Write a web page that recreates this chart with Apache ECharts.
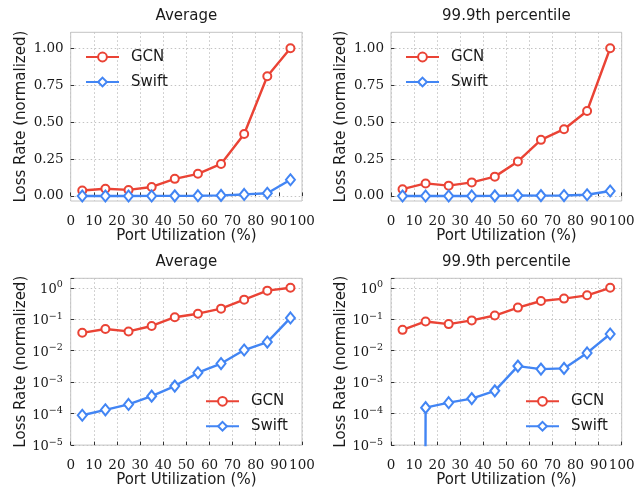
<!DOCTYPE html>
<html><head><meta charset="utf-8">
<script src="https://cdn.jsdelivr.net/npm/echarts@6/dist/echarts.min.js"></script>
<style>html,body{margin:0;padding:0;background:#fff}#c{width:643px;height:489px}</style>
</head><body><div id="c"></div>
<script>
// ---- data ----
const utilization = [5, 15, 25, 35, 45, 55, 65, 75, 85, 95];
const gcnAverage   = [0.037, 0.049, 0.041, 0.061, 0.116, 0.150, 0.217, 0.42, 0.81, 1.0];
const swiftAverage = [8.9e-5, 1.32e-4, 1.96e-4, 3.6e-4, 7.5e-4, 2.0e-3, 3.9e-3, 1.05e-2, 1.88e-2, 0.11];
const gcnP999      = [0.046, 0.085, 0.070, 0.092, 0.131, 0.234, 0.380, 0.452, 0.575, 1.0];
const swiftP999    = [0, 1.55e-4, 2.23e-4, 3.0e-4, 5.3e-4, 3.24e-3, 2.6e-3, 2.74e-3, 8.5e-3, 0.034];
const xTickValues = [0, 10, 20, 30, 40, 50, 60, 70, 80, 90, 100];
const linearTickValues = [0, 0.25, 0.5, 0.75, 1.0];
const logTickValues = [1e-5, 1e-4, 1e-3, 1e-2, 1e-1, 1];
const panelTitles = ['Average', '99.9th percentile', 'Average', '99.9th percentile'];
const seriesNames = ['GCN', 'Swift'];
const xAxisName = 'Port Utilization (%)';
const yAxisName = 'Loss Rate (normalized)';

// ---- styles ----
const RED = '#ea4335', BLUE = '#4285f4';
const TXT = '#1a1a1a';
const SANS = 'DejaVu Sans', SERIF = 'DejaVu Serif';
const grids = [
  {left: 70.7, top: 32.3, width: 231.3, height: 168.7},
  {left: 391,  top: 32.3, width: 230.7, height: 168.7},
  {left: 70.7, top: 278.3, width: 231.3, height: 167.7},
  {left: 391,  top: 278.3, width: 230.7, height: 167.7}
];
const isLog = [false, false, true, true];
const SPLIT = {show: true, lineStyle: {color: '#c4c4c4', width: 1, type: [1.5, 2.5]}};
const TICK = {show: true, inside: true, length: 3.5, lineStyle: {color: '#333', width: 1}};

function near(v, arr, logMode) {
  return arr.some(t => logMode ? Math.abs(Math.log10(v) - Math.log10(t)) < 1e-6 : Math.abs(v - t) < 1e-9);
}

const xAxes = grids.map((g, i) => ({
  type: 'value', gridIndex: i, min: 0, max: 100, interval: 10,
  name: xAxisName, nameLocation: 'middle', nameGap: 27,
  nameTextStyle: {fontFamily: SANS, fontSize: 15, color: TXT},
  axisLine: {show: false},
  axisTick: TICK,
  axisLabel: {fontFamily: SERIF, fontSize: 13.5, color: TXT, margin: 13,
    formatter: v => near(v, xTickValues, false) ? String(v) : ''},
  splitLine: SPLIT
}));

const yAxes = grids.map((g, i) => {
  const common = {
    gridIndex: i,
    name: yAxisName, nameLocation: 'middle', nameGap: 42, nameRotate: 90,
    nameTextStyle: {fontFamily: SANS, fontSize: 15, color: TXT},
    axisLine: {show: false},
    splitLine: SPLIT
  };
  if (!isLog[i]) {
    return Object.assign(common, {
      type: 'value', min: -0.034, max: 1.108,
      axisTick: Object.assign({customValues: linearTickValues}, TICK),
      axisLabel: {fontFamily: SERIF, fontSize: 13.5, color: TXT, margin: 7,
        customValues: linearTickValues,
        formatter: v => v.toFixed(2)}
    });
  }
  return Object.assign(common, {
    type: 'log', logBase: 10, min: 1e-5, max: 2, interval: 1,
    axisTick: TICK,
    axisLabel: {margin: 8,
      formatter: v => {
        if (!near(v, logTickValues, true)) return '';
        const e = Math.round(Math.log10(v));
        return '{b|10}{s|' + (e < 0 ? '\u2212' + (-e) : String(e)) + '}';
      },
      rich: {
        b: {fontFamily: SERIF, fontSize: 13, color: TXT, lineHeight: 16, verticalAlign: 'bottom'},
        s: {fontFamily: SERIF, fontSize: 9.5, color: TXT, lineHeight: 8, verticalAlign: 'top'}
      }
    }
  });
});

function mkSeries(name, idx, values, color, symbol, symbolSize, logMode) {
  return {
    type: 'line', name: name, xAxisIndex: idx, yAxisIndex: idx,
    // non-positive values on a log axis are clipped far below the axis (matplotlib-like)
    data: utilization.map((x, k) => [x, (logMode && values[k] <= 0) ? 1e-300 : values[k]]),
    symbol: symbol, symbolSize: symbolSize, showAllSymbol: true,
    color: color,
    lineStyle: {color: color, width: 2.4},
    itemStyle: {color: '#fff', borderColor: color, borderWidth: 2},
    clip: true, animation: false, z: 3
  };
}

const panelData = [
  [gcnAverage, swiftAverage],
  [gcnP999, swiftP999],
  [gcnAverage, swiftAverage],
  [gcnP999, swiftP999]
];
const series = [];
panelData.forEach((pair, i) => {
  series.push(mkSeries(seriesNames[0], i, pair[0], RED, 'circle', 8, isLog[i]));
  series.push(mkSeries(seriesNames[1], i, pair[1], BLUE, 'diamond', [9, 11], isLog[i]));
});

const legendPos = [
  {left: 85, top: 49.5}, {left: 405, top: 49.5},
  {left: 205, top: 393.8}, {left: 525, top: 393.8}
];
const legends = legendPos.map(p => ({
  data: seriesNames, orient: 'vertical', left: p.left, top: p.top,
  itemWidth: 33, itemHeight: 11, itemGap: 10, padding: 0,
  selectedMode: false,
  textStyle: {fontFamily: SANS, fontSize: 15, color: TXT, padding: [0, 0, 0, 7]}
}));

const titles = grids.map((g, i) => ({
  text: panelTitles[i], left: g.left + g.width / 2, top: g.top - 23.5, textAlign: 'center', padding: 0,
  textStyle: {fontFamily: SANS, fontSize: 15, fontWeight: 'normal', color: TXT}
}));

const chart = echarts.init(document.getElementById('c'), null, {renderer: 'canvas'});
chart.setOption({
  animation: false,
  backgroundColor: '#fff',
  title: titles,
  legend: legends,
  grid: grids.map(g => Object.assign({show: true, borderColor: '#c4c4c4', borderWidth: 1, containLabel: false}, g)),
  xAxis: xAxes,
  yAxis: yAxes,
  series: series
});
</script></body></html>
